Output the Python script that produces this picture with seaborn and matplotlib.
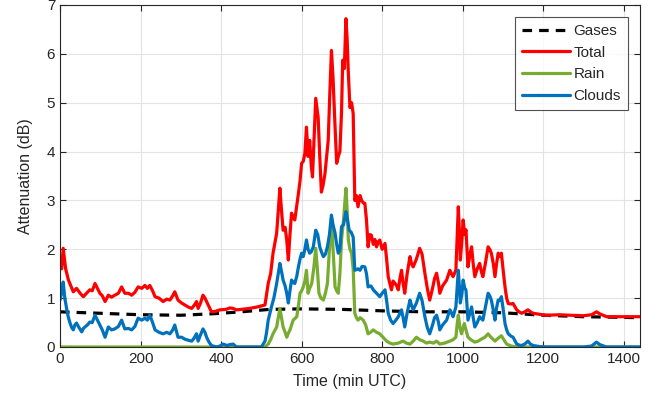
import matplotlib
matplotlib.use("Agg")
import matplotlib.pyplot as plt
import seaborn as sns

# values (time in min UTC, attenuation in dB)
gases_t = [0, 100, 200, 300, 380, 450, 520, 600, 700, 800, 900, 1000, 1100, 1200, 1300, 1440]
gases_v = [0.72, 0.69, 0.66, 0.65, 0.68, 0.72, 0.77, 0.78, 0.77, 0.74, 0.72, 0.72, 0.70, 0.65, 0.62, 0.60]

total_t = [0, 4, 8, 14, 21, 27, 33, 41, 50, 58, 66, 74, 80, 87, 93, 99, 105, 112, 120, 128,
           136, 145, 153, 161, 170, 178, 186, 194, 203, 211, 217, 223, 230, 236, 246, 256, 265,
           273, 280, 285, 293, 302, 310, 318, 327, 333, 339, 343, 349, 355, 360, 364, 370, 376,
           386, 397, 412, 422, 430, 438, 450, 471, 490, 509, 517, 523, 529, 538, 542, 546, 550,
           554, 559, 563, 567, 571, 575, 579, 583, 588, 592, 596, 600, 604, 608, 612, 616, 620,
           624, 627, 631, 635, 638, 641, 645, 649, 653, 658, 662, 666, 670, 674, 678, 683, 687,
           691, 695, 699, 702, 706, 710, 713, 716, 720, 724, 728, 732, 736, 740, 745, 749, 753,
           757, 761, 765, 769, 773, 778, 782, 786, 790, 794, 800, 807, 811, 815, 819, 823, 827,
           832, 836, 840, 844, 848, 852, 856, 862, 869, 873, 877, 885, 893, 899, 906, 912, 918,
           925, 930, 935, 940, 943, 950, 960, 968, 972, 976, 983, 986, 989, 992, 994, 998, 1001,
           1005, 1008, 1013, 1018, 1022, 1026, 1030, 1036, 1042, 1046, 1050, 1056, 1063, 1067,
           1071, 1076, 1080, 1084, 1088, 1092, 1096, 1100, 1105, 1109, 1113, 1120, 1125, 1130,
           1134, 1140, 1146, 1154, 1162, 1168, 1175, 1190, 1208, 1240, 1266, 1300, 1320, 1332,
           1340, 1357, 1400, 1440]
total_v = [1.72, 1.6, 2.02, 1.6, 1.37, 1.25, 1.13, 1.2, 1.1, 1.03, 1.1, 1.17, 1.15, 1.3, 1.2,
           1.1, 1.05, 0.93, 1.06, 1.02, 1.06, 1.1, 1.23, 1.1, 1.1, 1.06, 1.12, 1.23, 1.2, 1.26,
           1.2, 1.26, 1.15, 1.03, 1.0, 0.93, 0.98, 0.96, 1.05, 1.13, 0.96, 0.9, 0.86, 0.82, 0.79,
           0.85, 0.93, 0.79, 0.9, 1.06, 1.0, 0.93, 0.82, 0.72, 0.73, 0.76, 0.77, 0.8, 0.79, 0.76,
           0.77, 0.79, 0.82, 0.86, 1.3, 1.5, 1.92, 2.33, 2.8, 3.25, 2.8, 2.39, 2.45, 2.19, 1.78,
           2.3, 2.74, 2.65, 2.6, 2.9, 3.14, 3.4, 3.76, 3.8, 3.96, 4.5, 3.9, 4.23, 3.7, 3.48, 4.3,
           5.09, 4.9, 4.7, 3.9, 3.17, 3.3, 3.55, 3.9, 4.23, 5.2, 6.07, 5.5, 4.5, 3.76, 3.9, 4.0,
           4.8, 5.87, 5.7, 6.72, 6.3, 5.6, 4.9, 5.0, 4.78, 3.0, 3.1, 2.87, 3.1, 3.0, 2.95, 2.94,
           2.6, 2.05, 2.3, 2.29, 2.1, 2.2, 2.05, 2.15, 2.19, 2.0, 2.12, 1.8, 1.44, 1.3, 1.17,
           1.35, 1.3, 1.25, 1.17, 1.4, 1.57, 1.3, 1.1, 1.5, 1.85, 1.7, 1.64, 1.8, 2.02, 1.9,
           1.51, 1.2, 0.96, 1.2, 1.4, 1.51, 1.3, 1.1, 1.25, 1.37, 1.57, 1.5, 1.44, 1.57, 2.2,
           2.87, 2.3, 1.78, 2.2, 2.6, 2.3, 2.4, 1.64, 1.9, 2.05, 1.7, 1.44, 1.6, 1.71, 1.55, 1.44,
           1.7, 2.05, 2.0, 1.92, 1.7, 1.44, 1.7, 1.92, 1.85, 1.92, 1.6, 1.23, 1.0, 0.89, 0.88,
           0.89, 0.82, 0.76, 0.72, 0.69, 0.72, 0.76, 0.72, 0.69, 0.67, 0.65, 0.66, 0.65, 0.64,
           0.66, 0.72, 0.68, 0.62, 0.62, 0.62]

rain_t = [0, 509, 517, 523, 529, 538, 542, 546, 550, 554, 559, 563, 567, 571, 575, 579, 588,
          592, 596, 600, 604, 608, 612, 616, 620, 625, 630, 635, 639, 643, 648, 654, 659, 664,
          669, 674, 678, 683, 687, 691, 695, 699, 704, 710, 713, 716, 720, 724, 728, 732, 736,
          740, 745, 753, 759, 765, 771, 778, 786, 794, 802, 811, 819, 827, 840, 852, 860, 869,
          877, 885, 893, 902, 910, 918, 927, 935, 943, 955, 968, 976, 983, 986, 989, 993, 997,
          1001, 1004, 1008, 1013, 1020, 1030, 1038, 1046, 1055, 1063, 1070, 1080, 1088, 1096,
          1102, 1109, 1120, 1134, 1440]
rain_v = [0.0, 0.0, 0.06, 0.15, 0.27, 0.41, 0.6, 0.79, 0.6, 0.41, 0.3, 0.2, 0.28, 0.35, 0.45,
          0.55, 0.62, 0.85, 1.1, 1.15, 1.23, 1.35, 1.57, 1.1, 1.2, 1.3, 1.6, 2.02, 1.6, 1.1, 1.0,
          0.96, 1.1, 1.3, 2.0, 2.65, 2.0, 1.23, 1.15, 1.1, 1.5, 2.19, 2.6, 3.25, 2.8, 2.19, 2.0,
          1.92, 1.6, 0.69, 0.6, 0.55, 0.6, 0.55, 0.45, 0.27, 0.3, 0.35, 0.3, 0.27, 0.2, 0.12,
          0.08, 0.06, 0.08, 0.12, 0.08, 0.06, 0.12, 0.2, 0.15, 0.12, 0.08, 0.1, 0.08, 0.12, 0.06,
          0.08, 0.12, 0.15, 0.2, 0.45, 0.65, 0.4, 0.27, 0.4, 0.48, 0.35, 0.2, 0.15, 0.1, 0.12,
          0.16, 0.2, 0.27, 0.2, 0.12, 0.18, 0.23, 0.15, 0.06, 0.02, 0.0, 0.0]

clouds_t = [0, 4, 8, 12, 17, 21, 25, 29, 33, 37, 41, 47, 54, 58, 62, 68, 74, 80, 87, 93, 99,
            105, 112, 120, 128, 136, 145, 153, 161, 170, 178, 186, 194, 203, 211, 217, 223, 230,
            236, 246, 256, 265, 273, 280, 285, 293, 302, 310, 318, 327, 333, 339, 343, 349, 355,
            360, 364, 370, 376, 389, 397, 405, 415, 422, 430, 438, 471, 500, 509, 513, 517, 525,
            531, 538, 542, 546, 550, 554, 559, 563, 567, 571, 575, 579, 583, 588, 592, 596, 600,
            604, 608, 612, 616, 620, 624, 629, 635, 640, 645, 649, 654, 659, 664, 669, 674, 678,
            683, 687, 691, 695, 699, 704, 710, 714, 718, 723, 728, 732, 740, 745, 750, 757, 761,
            765, 772, 778, 786, 794, 800, 807, 811, 815, 821, 827, 834, 840, 848, 852, 856, 862,
            869, 873, 877, 885, 893, 899, 906, 912, 918, 925, 930, 935, 940, 943, 950, 960, 968,
            972, 976, 983, 986, 989, 992, 994, 998, 1001, 1005, 1008, 1013, 1018, 1022, 1026,
            1030, 1036, 1042, 1046, 1050, 1056, 1063, 1067, 1071, 1076, 1080, 1084, 1088, 1092,
            1096, 1100, 1105, 1109, 1113, 1120, 1125, 1130, 1134, 1140, 1146, 1154, 1162, 1168,
            1175, 1190, 1208, 1300, 1320, 1332, 1340, 1357, 1440]
clouds_v = [0.96, 1.1, 1.33, 1.0, 0.76, 0.6, 0.49, 0.4, 0.35, 0.45, 0.49, 0.4, 0.31, 0.38,
            0.41, 0.45, 0.51, 0.5, 0.65, 0.55, 0.45, 0.35, 0.2, 0.41, 0.35, 0.37, 0.42, 0.55,
            0.37, 0.38, 0.35, 0.42, 0.59, 0.55, 0.59, 0.55, 0.65, 0.5, 0.35, 0.3, 0.27, 0.3, 0.27,
            0.35, 0.45, 0.2, 0.2, 0.16, 0.14, 0.12, 0.18, 0.27, 0.12, 0.25, 0.37, 0.3, 0.2, 0.1,
            0.03, 0.0, 0.02, 0.06, 0.03, 0.05, 0.06, 0.0, 0.0, 0.0, 0.12, 0.3, 0.55, 0.82, 1.0,
            1.3, 1.5, 1.71, 1.55, 1.37, 1.25, 1.1, 0.9, 1.15, 1.37, 1.32, 1.3, 1.45, 1.64, 1.8,
            1.92, 1.85, 2.0, 2.19, 2.0, 1.92, 1.95, 2.05, 2.39, 2.3, 2.05, 1.95, 1.85, 1.9, 2.05,
            2.3, 2.7, 2.5, 2.33, 2.1, 1.92, 2.0, 2.46, 2.5, 2.77, 2.6, 2.39, 2.35, 2.25, 1.57, 1.6,
            1.57, 1.65, 1.64, 1.5, 1.23, 1.25, 1.17, 1.1, 1.03, 1.1, 1.17, 0.95, 0.69, 0.55, 0.48,
            0.55, 0.62, 0.76, 0.6, 0.41, 0.7, 0.96, 0.85, 0.76, 0.9, 1.1, 0.95, 0.62, 0.4, 0.27,
            0.45, 0.6, 0.65, 0.5, 0.35, 0.45, 0.55, 0.76, 0.7, 0.62, 0.82, 1.2, 1.57, 1.2, 0.9,
            1.1, 1.37, 1.2, 1.17, 0.55, 0.7, 0.82, 0.6, 0.41, 0.5, 0.62, 0.58, 0.55, 0.8, 1.1,
            1.05, 0.96, 0.75, 0.55, 0.8, 0.96, 0.95, 1.03, 0.8, 0.48, 0.35, 0.27, 0.22, 0.2, 0.12,
            0.06, 0.04, 0.03, 0.06, 0.12, 0.06, 0.03, 0.01, 0.0, 0.0, 0.02, 0.1, 0.05, 0.0, 0.0]

x_ticks = [0, 200, 400, 600, 800, 1000, 1200, 1400]
y_ticks = [0, 1, 2, 3, 4, 5, 6, 7]

sns.set_theme(style="whitegrid")
plt.rcParams["font.family"] = ["Liberation Sans", "DejaVu Sans"]

fig = plt.figure(figsize=(6.68, 4.09), dpi=100)
ax = fig.add_axes([0.0898, 0.1516, 0.8682, 0.8362])

lw = 2.3
sns.lineplot(x=gases_t, y=gases_v, ax=ax, color="black", lw=lw, label="Gases",
             linestyle=(0, (3, 2.2)))
sns.lineplot(x=total_t, y=total_v, ax=ax, color="#FF0000", lw=lw, label="Total")
sns.lineplot(x=rain_t, y=rain_v, ax=ax, color="#77AC30", lw=lw, label="Rain")
sns.lineplot(x=clouds_t, y=clouds_v, ax=ax, color="#0072BD", lw=lw, label="Clouds")

ax.set_xlim(0, 1440)
ax.set_ylim(0, 7)
ax.set_xticks(x_ticks)
ax.set_yticks(y_ticks)
ax.set_xlabel("Time (min UTC)", fontsize=11.5, color="#262626", labelpad=6)
ax.set_ylabel("Attenuation (dB)", fontsize=11.5, color="#262626", labelpad=10)
ax.tick_params(direction="in", length=4, width=0.8, colors="#262626", labelsize=11,
               top=True, right=True, bottom=True, left=True)
ax.grid(True, color="#e3e3e3", lw=0.8)
ax.set_facecolor("white")
for sp in ax.spines.values():
    sp.set_visible(True)
    sp.set_color("#262626")
    sp.set_linewidth(0.8)

leg = ax.legend(loc="upper right", fontsize=11, frameon=True, fancybox=False,
                handlelength=3.1, borderaxespad=0.8, labelspacing=0.5, handletextpad=0.25,
                borderpad=0.45)
leg.get_frame().set_edgecolor("#262626")
leg.get_frame().set_linewidth(0.8)
for txt in leg.get_texts():
    txt.set_color("#262626")

fig.savefig("out.png", dpi=100)
